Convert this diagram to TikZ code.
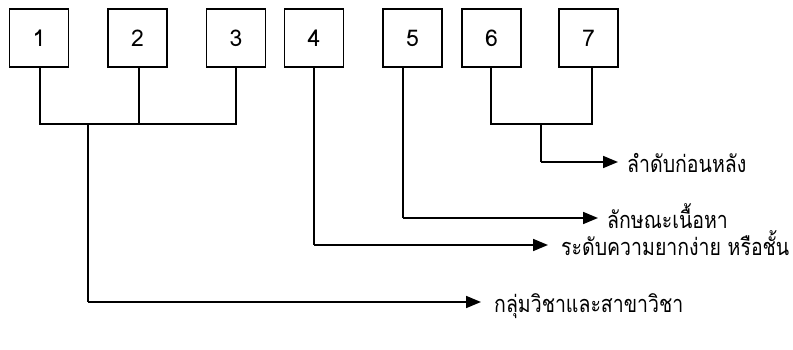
\documentclass[tikz,border=0pt]{standalone}
\usepackage{fontspec}
\newfontfamily\thaifont[Script=Thai,FakeStretch=0.83]{Loma}
\newfontfamily\digitfont{Loma}
\usetikzlibrary{arrows.meta}
\begin{document}
\begin{tikzpicture}[x=1pt,y=-1pt,
  numbox/.style={draw,line width=1.5pt,minimum width=59pt,minimum height=58pt,inner sep=0pt,font=\digitfont\fontsize{23}{25}\selectfont},
  lbl/.style={anchor=base west,inner sep=0pt,font=\thaifont\fontsize{23.5}{26}\selectfont},
  conn/.style={line width=1.7pt},
  arr/.style={line width=1.7pt,-{Triangle[length=15pt,width=12pt]}}]
\useasboundingbox (0,0) rectangle (793,350);
\node[numbox] (b1) at (39,38) {1};
\node[numbox] (b2) at (137.5,38) {2};
\node[numbox] (b3) at (236,38) {3};
\node[numbox] (b4) at (314,38) {4};
\node[numbox] (b5) at (412.5,38) {5};
\node[numbox] (b6) at (491.5,38) {6};
\node[numbox] (b7) at (588.5,38) {7};
\coordinate (j1) at (40,124);
\coordinate (j2) at (139,124);
\coordinate (j3) at (236,124);
\coordinate (s1) at (88,124);
\coordinate (e1) at (88,302);
\coordinate (e4) at (314,245);
\coordinate (e5) at (403,218);
\coordinate (j6) at (491,124);
\coordinate (j7) at (592,124);
\coordinate (s6) at (541,124);
\coordinate (e6) at (541,162);
\coordinate (p1) at (481,302);
\coordinate (p4) at (548,245);
\coordinate (p5) at (598,218);
\coordinate (p6) at (618,162);
\node[lbl] (t1) at (494,312) {กลุ่มวิชาและสาขาวิชา};
\node[lbl] (t4) at (561,255) {ระดับความยากง่าย หรือชั้น};
\node[lbl] (t5) at (607,228) {ลักษณะเนื้อหา};
\node[lbl] (t6) at (627,172) {ลำดับก่อนหลัง};
\draw[conn] (b1.south -| j1) -- (j1) -- (j3) -- (b3.south -| j3);
\draw[conn] (b2.south -| j2) -- (j2);
\draw[conn] (s1) -- (e1);
\draw[arr] (e1) -- (p1);
\draw[conn] (b4.south) -- (e4);
\draw[arr] (e4) -- (p4);
\draw[conn] (b5.south -| e5) -- (e5);
\draw[arr] (e5) -- (p5);
\draw[conn] (b6.south -| j6) -- (j6) -- (j7) -- (b7.south -| j7);
\draw[conn] (s6) -- (e6);
\draw[arr] (e6) -- (p6);
\end{tikzpicture}
\end{document}
